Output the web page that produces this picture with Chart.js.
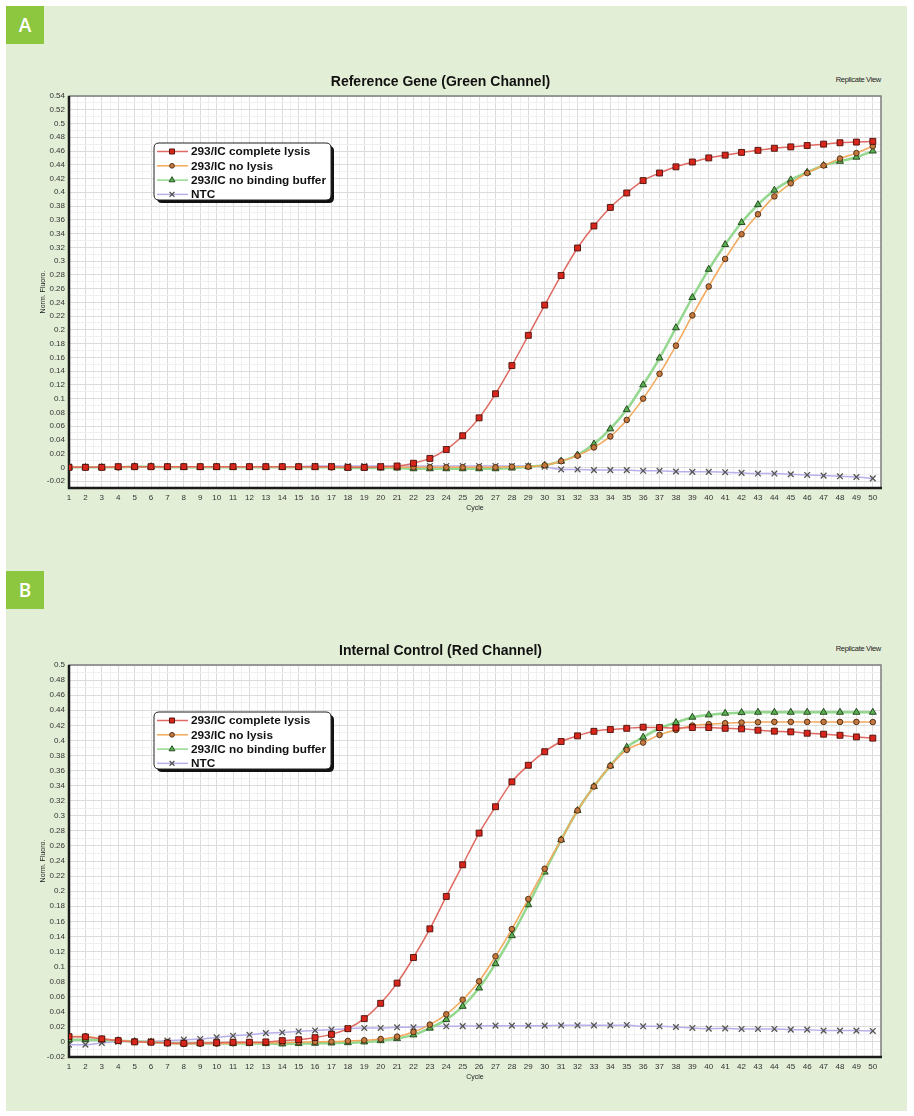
<!DOCTYPE html>
<html>
<head>
<meta charset="utf-8">
<script src="https://cdn.jsdelivr.net/npm/chart.js@4.4.1/dist/chart.umd.min.js"></script>
<style>
  html, body { margin: 0; padding: 0; background: #ffffff; }
  body { width: 914px; height: 1116px; position: relative; overflow: hidden;
         font-family: 'Liberation Sans', Arial, sans-serif; }
  #panel { position: absolute; left: 6px; top: 6px; width: 901px; height: 1105px; background: #e3eed6; }
  .badge { position: absolute; left: 6px; width: 38px; height: 38px; background: #8dc63f; color: #fff;
           font: 600 19px 'Open Sans', sans-serif; display: flex; align-items: center; justify-content: center; }
  .rv { position: absolute; right: 33px; font: 7.5px 'Liberation Sans', Arial, sans-serif; color: #222; letter-spacing: -0.3px; }
  canvas { position: absolute; left: 0; }
</style>
</head>
<body>
<div id="panel"></div>
<div class="badge" style="top:6px">A</div>
<div class="badge" style="top:571px">B</div>
<div class="rv" style="top:75px">Replicate View</div>
<div class="rv" style="top:644px">Replicate View</div>
<canvas id="chartA" width="914" height="540" style="top:0px"></canvas>
<canvas id="chartB" width="914" height="540" style="top:560px"></canvas>

<script>
// PCR cycles (x axis categories and tick labels)
const cycles = [1,2,3,4,5,6,7,8,9,10,11,12,13,14,15,16,17,18,19,20,21,22,23,24,25,
                26,27,28,29,30,31,32,33,34,35,36,37,38,39,40,41,42,43,44,45,46,47,48,49,50];

const seriesNames = ['293/IC complete lysis', '293/IC no lysis', '293/IC no binding buffer', 'NTC'];

// Y tick labels for each panel
const yTicksA = [-0.02,0,0.02,0.04,0.06,0.08,0.1,0.12,0.14,0.16,0.18,0.2,0.22,0.24,0.26,0.28,
                 0.3,0.32,0.34,0.36,0.38,0.4,0.42,0.44,0.46,0.48,0.5,0.52,0.54];
const yTicksB = [-0.02,0,0.02,0.04,0.06,0.08,0.1,0.12,0.14,0.16,0.18,0.2,0.22,0.24,0.26,0.28,
                 0.3,0.32,0.34,0.36,0.38,0.4,0.42,0.44,0.46,0.48,0.5];

// Panel A: Reference Gene (Green Channel), normalised fluorescence per cycle
const refCompleteLysis = [0,0,0,0.001,0.001,0.001,0.001,0.001,0.001,0.001,
  0.001,0.001,0.001,0.001,0.001,0.001,0.001,0,0,0.001,
  0.002,0.006,0.013,0.026,0.046,0.072,0.107,0.148,0.192,0.236,
  0.279,0.319,0.351,0.378,0.399,0.417,0.428,0.437,0.444,0.450,
  0.454,0.458,0.461,0.464,0.466,0.468,0.470,0.472,0.473,0.474];
const refNoLysis = [0.001,0,0,0,0.001,0.001,0.001,0.001,0.001,0.001,
  0.001,0.001,0.001,0.001,0.001,0.001,0,0,0,0,
  0,0,0,0,0,0,0,0.001,0.001,0.003,
  0.009,0.017,0.029,0.045,0.069,0.100,0.136,0.177,0.221,0.263,
  0.303,0.339,0.368,0.394,0.413,0.428,0.439,0.449,0.457,0.467];
const refNoBinding = [0,0,0,0,0.001,0.001,0,0,0,0,
  0,0,0,0,0,0,0,-0.001,-0.001,-0.001,
  -0.001,-0.002,-0.002,-0.002,-0.002,-0.002,-0.002,-0.001,0.001,0.003,
  0.009,0.018,0.034,0.056,0.084,0.120,0.159,0.203,0.247,0.288,
  0.324,0.356,0.382,0.403,0.418,0.429,0.439,0.445,0.451,0.460];
const refNtc = [0.001,0.001,0.001,0.001,0.001,0.001,0.001,0.001,0.001,0.001,
  0.001,0.001,0.001,0.001,0.001,0.002,0.002,0.002,0.002,0.002,
  0.002,0.002,0.002,0.002,0.002,0.002,0.002,0.002,0.002,0.001,
  -0.003,-0.003,-0.004,-0.004,-0.004,-0.005,-0.005,-0.006,-0.0065,-0.0065,
  -0.007,-0.008,-0.009,-0.009,-0.010,-0.011,-0.012,-0.013,-0.014,-0.016];

// Panel B: Internal Control (Red Channel)
const icCompleteLysis = [0.007,0.0066,0.004,0.0017,0,-0.0004,-0.0014,-0.0018,-0.0014,-0.001,
  -0.0004,-0.0004,0,0.0017,0.003,0.0057,0.010,0.0176,0.0309,0.0512,
  0.078,0.112,0.150,0.193,0.235,0.277,0.312,0.345,0.367,0.385,
  0.3985,0.406,0.412,0.4144,0.416,0.4175,0.417,0.4165,0.417,0.417,
  0.416,0.4153,0.4135,0.4122,0.4113,0.4095,0.4082,0.4068,0.4046,0.403];
const icNoLysis = [0.0073,0.0073,0.0043,0.0022,0.0004,-0.0004,-0.0018,-0.0027,-0.0022,-0.0022,
  -0.0018,-0.0014,-0.0014,-0.001,-0.0004,0,0.0004,0.0013,0.0022,0.0039,
  0.007,0.0132,0.023,0.0366,0.056,0.0804,0.1135,0.1497,0.1895,0.2297,
  0.2681,0.307,0.3388,0.3662,0.3874,0.3971,0.4073,0.4139,0.4197,0.4215,
  0.4228,0.4237,0.4241,0.4245,0.4245,0.4245,0.4245,0.4245,0.4245,0.4243];
const icNoBinding = [0.003,0.003,0.0026,0.0017,0.0004,0,-0.0014,-0.0018,-0.0022,-0.0022,
  -0.0022,-0.0022,-0.0022,-0.0027,-0.0022,-0.0018,-0.0014,-0.001,0,0.0017,
  0.0044,0.0093,0.0183,0.0296,0.0472,0.0715,0.1038,0.1409,0.182,0.2253,
  0.2681,0.307,0.3388,0.3662,0.391,0.4042,0.4161,0.4237,0.4307,0.4338,
  0.436,0.4369,0.4373,0.4373,0.4373,0.4373,0.4373,0.4373,0.4373,0.4373];
const icNtc = [-0.0036,-0.0036,-0.0014,0.0004,0.0009,0.0009,0.0017,0.003,0.0039,0.006,
  0.0082,0.0095,0.0117,0.0126,0.0139,0.0152,0.0163,0.0176,0.0185,0.0185,
  0.0194,0.0194,0.0207,0.0207,0.021,0.021,0.0216,0.0216,0.0216,0.0216,
  0.022,0.022,0.022,0.022,0.0225,0.0207,0.0207,0.0198,0.0185,0.0176,
  0.018,0.0172,0.0172,0.0172,0.0163,0.0163,0.015,0.015,0.015,0.0145];

const FONT = "'Liberation Sans', Arial, sans-serif";
const TICK_FONT = "'Liberation Sans Narrow', 'Liberation Sans', Arial, sans-serif";

// Visual style of each series (line + marker)
const seriesStyles = [
  { line: '#e06a62', width: 1.5, marker: 'rect',     radius: 4.2, fill: '#d9261c', edge: '#4a0e08' },
  { line: '#f3a85c', width: 1.5, marker: 'circle',   radius: 2.8, fill: '#c4773e', edge: '#4a2a10' },
  { line: '#93d88e', width: 2.5, marker: 'triangle', radius: 4.0, fill: '#5aae52', edge: '#1e3e16' },
  { line: '#b8b0ea', width: 1.5, marker: 'crossRot', radius: 4.0, fill: '#555555', edge: '#555555' }
];

function makeDatasets(seriesList) {
  return seriesList.map((vals, i) => {
    const s = seriesStyles[i];
    return {
      label: seriesNames[i],
      data: cycles.map((c, k) => ({ x: c, y: vals[k] })),
      borderColor: s.line,
      borderWidth: s.width,
      pointStyle: s.marker,
      pointRadius: s.radius,
      pointHoverRadius: s.radius,
      pointBackgroundColor: s.fill,
      pointBorderColor: s.edge,
      pointBorderWidth: i === 3 ? 1.3 : 0.9,
      cubicInterpolationMode: 'monotone',
      fill: false
    };
  });
}

// White plot background and the window-style frame around it
const plotFrame = {
  id: 'plotFrame',
  beforeDraw(chart) {
    const { ctx, chartArea: a } = chart;
    ctx.save();
    ctx.fillStyle = '#ffffff';
    ctx.fillRect(a.left, a.top, a.right - a.left, a.bottom - a.top);
    ctx.restore();
  },
  beforeDatasetsDraw(chart) {
    const { ctx, chartArea: a } = chart;
    ctx.save();
    ctx.strokeStyle = '#7d7d7d';
    ctx.lineWidth = 1.5;
    ctx.strokeRect(a.left, a.top, a.right - a.left, a.bottom - a.top);
    ctx.strokeStyle = '#1a1a1a';
    ctx.lineWidth = 2.5;
    ctx.beginPath();
    ctx.moveTo(a.left, a.top);
    ctx.lineTo(a.left, a.bottom);
    ctx.lineTo(a.right + 1, a.bottom);
    ctx.stroke();
    ctx.restore();
  }
};

function roundRectPath(ctx, x, y, w, h, r) {
  ctx.beginPath();
  ctx.moveTo(x + r, y);
  ctx.lineTo(x + w - r, y);
  ctx.quadraticCurveTo(x + w, y, x + w, y + r);
  ctx.lineTo(x + w, y + h - r);
  ctx.quadraticCurveTo(x + w, y + h, x + w - r, y + h);
  ctx.lineTo(x + r, y + h);
  ctx.quadraticCurveTo(x, y + h, x, y + h - r);
  ctx.lineTo(x, y + r);
  ctx.quadraticCurveTo(x, y, x + r, y);
  ctx.closePath();
}

// Boxed legend floating inside the plot area
const boxLegend = {
  id: 'boxLegend',
  afterDraw(chart, args, opts) {
    const { ctx, chartArea: a } = chart;
    const x0 = a.left + opts.dx, y0 = a.top + opts.dy;
    const w = 177, h = 57;
    ctx.save();
    ctx.fillStyle = '#111111';
    roundRectPath(ctx, x0 + 3, y0 + 3, w, h, 5);
    ctx.fill();
    ctx.fillStyle = '#ffffff';
    roundRectPath(ctx, x0, y0, w, h, 5);
    ctx.fill();
    ctx.strokeStyle = '#222222';
    ctx.lineWidth = 1;
    ctx.stroke();
    chart.data.datasets.forEach((ds, i) => {
      const cy = y0 + 8.5 + i * 14.3;
      ctx.strokeStyle = ds.borderColor;
      ctx.lineWidth = 1.5;
      ctx.beginPath();
      ctx.moveTo(x0 + 3, cy);
      ctx.lineTo(x0 + 34, cy);
      ctx.stroke();
      ctx.fillStyle = ds.pointBackgroundColor;
      ctx.strokeStyle = ds.pointBorderColor;
      ctx.lineWidth = ds.pointBorderWidth;
      Chart.helpers.drawPoint(ctx, { pointStyle: ds.pointStyle, rotation: 0,
        radius: ds.pointRadius * 0.85, borderWidth: ds.pointBorderWidth }, x0 + 18, cy);
      ctx.fillStyle = '#111111';
      ctx.font = "bold 11.8px " + FONT;
      ctx.textBaseline = 'middle';
      ctx.textAlign = 'left';
      ctx.fillText(ds.label, x0 + 37, cy + 0.5);
    });
    ctx.restore();
  }
};

function fmt(v) { return String(Math.round(v * 100) / 100); }

function makeChart(id, title, seriesList, yTicks, yMin, yMax, padTop, padBottom) {
  const yMajor = yTicks.map(v => ({ value: v, major: true }));
  const yMinor = yTicks.slice(0, -1).map((v, k) => ({ value: (v + yTicks[k + 1]) / 2, major: false }));
  const yAll = yMajor.concat(yMinor).sort((p, q) => p.value - q.value);
  const xMajor = cycles.map(c => ({ value: c, major: true }));
  const xMinor = cycles.slice(0, -1).map(c => ({ value: c + 0.5, major: false }));
  const xAll = xMajor.concat(xMinor).sort((p, q) => p.value - q.value);
  const gridColor = ctx => (ctx.tick && ctx.tick.major) ? '#dcdcdc' : '#f0f0f0';

  return new Chart(document.getElementById(id), {
    type: 'line',
    data: { datasets: makeDatasets(seriesList) },
    plugins: [plotFrame, boxLegend],
    options: {
      responsive: false,
      animation: false,
      layout: { padding: { left: 0, right: 33, top: 0, bottom: padBottom } },
      plugins: {
        legend: { display: false },
        tooltip: { enabled: false },
        title: { display: true, text: title, color: '#111111',
                 font: { family: FONT, size: 14, weight: 'bold' },
                 padding: { top: padTop, bottom: 5 } },
        boxLegend: { dx: 85, dy: 47 }
      },
      scales: {
        x: {
          type: 'linear', min: 1, max: 50.5,
          afterBuildTicks: s => { s.ticks = xAll.map(t => ({ ...t })); },
          afterFit: s => { s.height = 24; },
          grid: { color: gridColor, lineWidth: 1, drawTicks: false },
          border: { display: false },
          ticks: { autoSkip: false, maxRotation: 0, padding: 5, color: '#333333',
                   font: { family: TICK_FONT, size: 8 },
                   callback: (v, i, ticks) => ticks[i].major ? String(v) : '' },
          title: { display: true, text: 'Cycle', color: '#222222',
                   font: { family: FONT, size: 7 }, padding: { top: 0, bottom: 0 } }
        },
        y: {
          type: 'linear', min: yMin, max: yMax,
          afterBuildTicks: s => { s.ticks = yAll.map(t => ({ ...t })); },
          afterFit: s => { s.width = 69; },
          grid: { color: gridColor, lineWidth: 1, drawTicks: false },
          border: { display: false },
          ticks: { autoSkip: false, padding: 4, color: '#333333',
                   font: { family: TICK_FONT, size: 8 },
                   callback: (v, i, ticks) => ticks[i].major ? fmt(v) : '' },
          title: { display: true, text: 'Norm. Fluoro.', color: '#222222',
                   font: { family: FONT, size: 7 }, padding: { top: 38.8, bottom: 0 } }
        }
      }
    }
  });
}

makeChart('chartA', 'Reference Gene (Green Channel)',
  [refCompleteLysis, refNoLysis, refNoBinding, refNtc], yTicksA, -0.03, 0.54, 74.2, 28);
makeChart('chartB', 'Internal Control (Red Channel)',
  [icCompleteLysis, icNoLysis, icNoBinding, icNtc], yTicksB, -0.02, 0.5, 83.2, 19);
</script>
</body>
</html>
